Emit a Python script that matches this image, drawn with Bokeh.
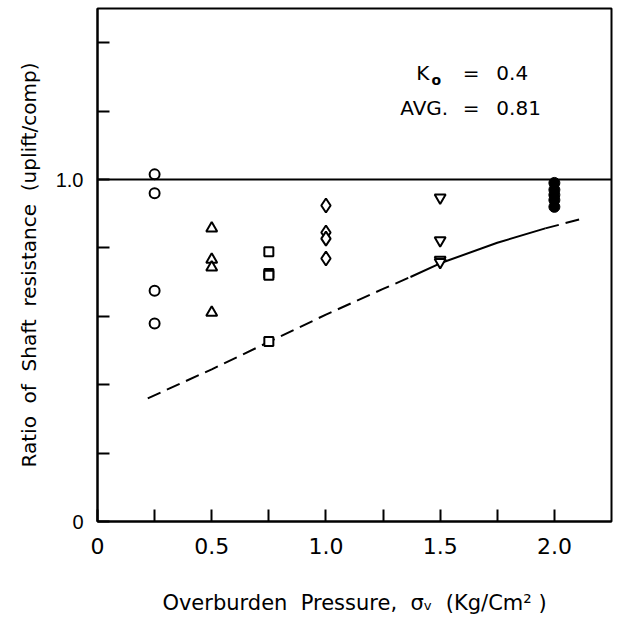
from bokeh.plotting import figure
from bokeh.models import FixedTicker, Span
from bokeh.core.properties import value
from bokeh.embed import file_html
from bokeh.resources import INLINE

# data
circ_x = [0.25, 0.25, 0.25, 0.25]
circ_y = [1.015, 0.960, 0.675, 0.579]
tri_x = [0.5, 0.5, 0.5, 0.5]
tri_y = [0.857, 0.766, 0.743, 0.611]
sq_x = [0.75, 0.75, 0.75, 0.75]
sq_y = [0.789, 0.725, 0.720, 0.526]
dia_x = [1.0, 1.0, 1.0, 1.0]
dia_y = [0.924, 0.845, 0.827, 0.769]
itri_x = [1.5, 1.5, 1.5, 1.5]
itri_y = [0.947, 0.822, 0.765, 0.758]
fill_x = [2.0, 2.0, 2.0, 2.0, 2.0]
fill_y = [0.99, 0.97, 0.955, 0.94, 0.92]

curve_x = [0.22, 0.5, 0.75, 1.0, 1.25, 1.37, 1.5, 1.75, 1.96, 2.12]
curve_y = [0.36, 0.445, 0.525, 0.605, 0.68, 0.715, 0.755, 0.815, 0.857, 0.885]

x_ticks = [0.25, 0.5, 0.75, 1.0, 1.25, 1.5, 1.75, 2.0]
x_labels = {0.5: "0.5", 1.0: "1.0", 1.5: "1.5", 2.0: "2.0"}
y_ticks = [0.0, 0.2, 0.4, 0.6, 0.8, 1.0, 1.2, 1.4]
y_labels = {0.0: "0", 1.0: "1.0"}

FONT = "Liberation Sans"
WIDE = "DejaVu Sans"
S = " \u00a0"  # widened word spacing

p = figure(width=622, height=624, x_range=(0, 2.25), y_range=(0, 1.5),
           output_backend="svg", toolbar_location=None,
           min_border_left=97, min_border_top=8, min_border_right=11,
           min_border_bottom=103)
p.grid.visible = False
p.outline_line_color = "black"
p.outline_line_width = 2
p.background_fill_color = "white"
p.border_fill_color = "white"

for ax in (p.xaxis[0], p.yaxis[0]):
    ax.axis_line_width = 2
    ax.axis_line_color = "black"
    ax.major_tick_in = 12
    ax.major_tick_out = 0
    ax.major_tick_line_width = 2
    ax.minor_tick_line_color = None
    ax.major_label_text_color = "black"
    ax.axis_label_text_font = WIDE
    ax.axis_label_text_font_style = "normal"
    ax.axis_label_text_color = "black"

p.xaxis[0].ticker = FixedTicker(ticks=[0.0] + x_ticks)
labels_x = {t: "" for t in x_ticks}
labels_x.update(x_labels)
labels_x[0.0] = "0"
p.xaxis[0].major_label_overrides = labels_x
p.xaxis[0].major_label_text_font = WIDE
p.xaxis[0].major_label_text_font_size = "22px"
p.xaxis[0].major_label_standoff = 16
p.xaxis[0].axis_label = "Overburden" + S + "Pressure," + S + "σᵥ" + S + "(Kg/Cm² )"
p.xaxis[0].axis_label_text_font_size = "21px"
p.xaxis[0].axis_label_standoff = 34

p.yaxis[0].ticker = FixedTicker(ticks=y_ticks)
labels_y = {t: "" for t in y_ticks}
labels_y.update(y_labels)
p.yaxis[0].major_label_overrides = labels_y
p.yaxis[0].major_label_text_font = FONT
p.yaxis[0].major_label_text_font_size = "20px"
p.yaxis[0].major_label_standoff = 14
p.yaxis[0].axis_label = "Ratio" + S + "of" + S + "Shaft" + S + "resistance" + S + "(uplift/comp)"
p.yaxis[0].axis_label_text_font_size = "20px"
p.yaxis[0].axis_label_standoff = 12

p.add_layout(Span(location=1.0, dimension="width", line_color="black", line_width=2))

# curve: dashed, solid, dashed
p.line(curve_x[:6], curve_y[:6], line_color="black", line_width=2, line_dash="14 7")
p.line(curve_x[5:9], curve_y[5:9], line_color="black", line_width=2)
p.line(curve_x[8:], curve_y[8:], line_color="black", line_width=2, line_dash="14 7")

mk = dict(line_color="black", line_width=2, fill_color="white")
p.scatter(circ_x, circ_y, marker="circle", size=10, **mk)
p.scatter(tri_x, tri_y, marker="triangle", size=11, **mk)
p.scatter(sq_x, sq_y, marker="square", size=9, **mk)
p.scatter(dia_x, dia_y, marker="diamond", size=14, **mk)
p.scatter(itri_x, itri_y, marker="inverted_triangle", size=11, **mk)
p.scatter(fill_x, fill_y, marker="circle", size=11, line_color="black", fill_color="black")

# annotation text
tf = value(WIDE)
p.text(x=[1.395], y=[1.310], text=["K"], text_font=tf, text_font_size="20px",
       text_baseline="middle", text_align="left", text_color="black")
p.text(x=[1.462], y=[1.292], text=["o"], text_font=tf, text_font_size="14px",
       text_baseline="middle", text_align="left", text_color="black", text_font_style="bold")
p.text(x=[1.636, 1.636], y=[1.310, 1.208], text=["=", "="], text_font=tf,
       text_font_size="20px", text_baseline="middle", text_align="center", text_color="black")
p.text(x=[1.746, 1.746], y=[1.310, 1.208], text=["0.4", "0.81"], text_font=tf,
       text_font_size="20px", text_baseline="middle", text_align="left", text_color="black")
p.text(x=[1.535], y=[1.208], text=["AVG."], text_font=tf, text_font_size="20px",
       text_baseline="middle", text_align="right", text_color="black")

open("out.html", "w").write(file_html(p, INLINE))
